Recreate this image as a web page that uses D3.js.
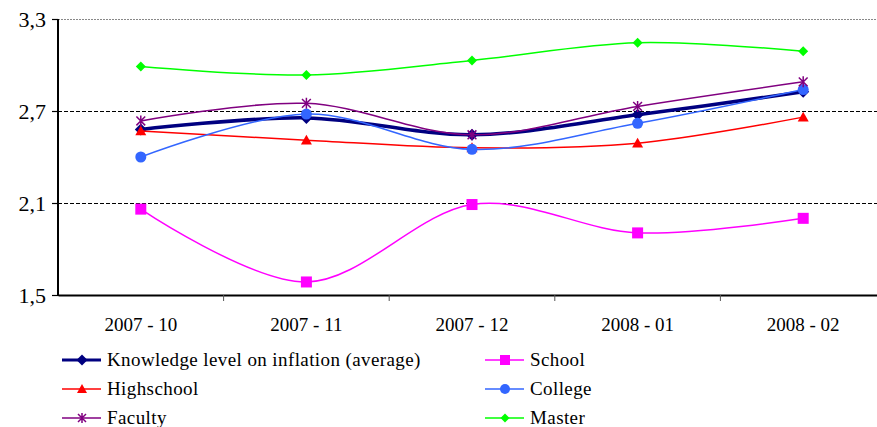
<!DOCTYPE html>
<html>
<head>
<script src="https://d3js.org/d3.v7.min.js"></script>
<style>
  body { margin: 0; background: white; }
</style>
</head>
<body>
<div id="chart"></div>
<script>
// data
var months = ["2007 - 10", "2007 - 11", "2007 - 12", "2008 - 01", "2008 - 02"];
var yTicks = [1.5, 2.1, 2.7, 3.3];

var average    = [2.58, 2.655, 2.545, 2.675, 2.825];
var school     = [2.06, 1.585, 2.09, 1.905, 2.00];
var highschool = [2.57, 2.51, 2.46, 2.49, 2.66];
var college    = [2.40, 2.68, 2.45, 2.62, 2.84];
var faculty    = [2.635, 2.75, 2.545, 2.73, 2.89];
var master     = [2.99, 2.935, 3.03, 3.145, 3.09];

var series = [
  {name: "Knowledge level on inflation (average)", values: average, color: "#000080", width: 3.5, marker: "diamond", size: 12},
  {name: "School", values: school, color: "#FF00FF", width: 1.5, marker: "square", size: 11},
  {name: "Highschool", values: highschool, color: "#FF0000", width: 1.5, marker: "triangle", size: 11},
  {name: "College", values: college, color: "#3366FF", width: 1.5, marker: "circle", size: 11},
  {name: "Faculty", values: faculty, color: "#800080", width: 1.5, marker: "asterisk", size: 11},
  {name: "Master", values: master, color: "#00FF00", width: 1.5, marker: "diamond", size: 10}
];

var FONT = "'Liberation Serif', 'Times New Roman', serif";
var W = 877, H = 427;
var m = {left: 58, right: 886, top: 19, bottom: 295};

var svg = d3.select("#chart").append("svg")
  .attr("width", W).attr("height", H);

var x = d3.scaleBand().domain(months).range([m.left, m.right]);
var y = d3.scaleLinear().domain([1.5, 3.3]).range([m.bottom, m.top]);

// grid lines
svg.append("g").selectAll("line")
  .data(yTicks.filter(function(d) { return d > 1.5; }))
  .enter().append("line")
  .attr("x1", m.left).attr("x2", W)
  .attr("y1", function(d) { return y(d) + 0.5; })
  .attr("y2", function(d) { return y(d) + 0.5; })
  .attr("stroke", function(d) { return d == 3.3 ? "#888" : "#000"; })
  .attr("stroke-width", function(d) { return d == 3.3 ? 1.2 : 1; })
  .attr("stroke-dasharray", function(d) { return d == 3.3 ? "2,1" : "4,2"; });

// x axis
var xAxis = svg.append("g")
  .attr("transform", "translate(0," + m.bottom + ")")
  .call(d3.axisBottom(x).tickSize(0).tickPadding(23));
xAxis.select(".domain").attr("stroke", "#000").attr("stroke-width", 2);
xAxis.selectAll("text").style("font-family", FONT).style("font-size", "19px").style("fill", "#000");
xAxis.selectAll(".tick line").remove();
svg.append("g").selectAll("line")
  .data(months.slice(1))
  .enter().append("line")
  .attr("x1", function(d) { return x(d); })
  .attr("x2", function(d) { return x(d); })
  .attr("y1", m.bottom).attr("y2", m.bottom + 6)
  .attr("stroke", "#555").attr("stroke-width", 1);

// y axis
var yAxis = svg.append("g")
  .attr("transform", "translate(" + m.left + ",0)")
  .call(d3.axisLeft(y).tickValues(yTicks).tickSize(6).tickPadding(6)
    .tickFormat(function(d) { return d3.format(".1f")(d).replace(".", ","); }));
yAxis.select(".domain").attr("stroke", "#000").attr("stroke-width", 2).attr("d", "M0," + m.top + "V" + (m.bottom + 1));
yAxis.selectAll(".tick line").attr("stroke", "#000").attr("stroke-width", 1.2);
yAxis.selectAll("text").style("font-family", FONT).style("font-size", "22px").style("fill", "#000");

function cx(i) { return x(months[i]) + x.bandwidth() / 2; }

var line = d3.line()
  .x(function(d, i) { return cx(i); })
  .y(function(d) { return y(d); })
  .curve(d3.curveCardinal.tension(0));

function drawMarker(g, s, px, py) {
  var r = s.size / 2;
  if (s.marker == "diamond") {
    g.append("path").attr("d", "M" + px + "," + (py - r) + "L" + (px + r) + "," + py + "L" + px + "," + (py + r) + "L" + (px - r) + "," + py + "Z")
      .attr("fill", s.color);
  } else if (s.marker == "square") {
    g.append("rect").attr("x", px - r).attr("y", py - r).attr("width", s.size).attr("height", s.size)
      .attr("fill", s.color);
  } else if (s.marker == "triangle") {
    g.append("path").attr("d", "M" + px + "," + (py - r) + "L" + (px + r) + "," + (py + r * 0.8) + "L" + (px - r) + "," + (py + r * 0.8) + "Z")
      .attr("fill", s.color);
  } else if (s.marker == "circle") {
    g.append("circle").attr("cx", px).attr("cy", py).attr("r", r).attr("fill", s.color);
  } else if (s.marker == "asterisk") {
    var a = r * 0.8;
    g.append("path").attr("d",
      "M" + (px - a) + "," + (py - a) + "L" + (px + a) + "," + (py + a) +
      "M" + (px + a) + "," + (py - a) + "L" + (px - a) + "," + (py + a) +
      "M" + px + "," + (py - r) + "L" + px + "," + (py + r))
      .attr("stroke", s.color).attr("stroke-width", 1.5).attr("fill", "none");
  }
}

series.forEach(function(s) {
  var g = svg.append("g");
  g.append("path").datum(s.values)
    .attr("d", line)
    .attr("fill", "none")
    .attr("stroke", s.color)
    .attr("stroke-width", s.width);
  s.values.forEach(function(v, i) { drawMarker(g, s, cx(i), y(v)); });
});

// legend: two columns, row-major
var legend = svg.append("g");
series.forEach(function(s, i) {
  var col = i % 2, row = Math.floor(i / 2);
  var lx = col == 0 ? 62 : 485;
  var ly = 360 + row * 29;
  var g = legend.append("g");
  g.append("line").attr("x1", lx).attr("x2", lx + 39).attr("y1", ly).attr("y2", ly)
    .attr("stroke", s.color).attr("stroke-width", s.width == 3.5 ? 3 : 1.5);
  drawMarker(g, {marker: s.marker, color: s.color, size: s.size - 1}, lx + 20, ly);
  g.append("text").attr("x", lx + 45).attr("y", ly + 6)
    .style("font-family", FONT).style("font-size", "19px").style("letter-spacing", "0.4px")
    .text(s.name);
});
</script>
</body>
</html>
